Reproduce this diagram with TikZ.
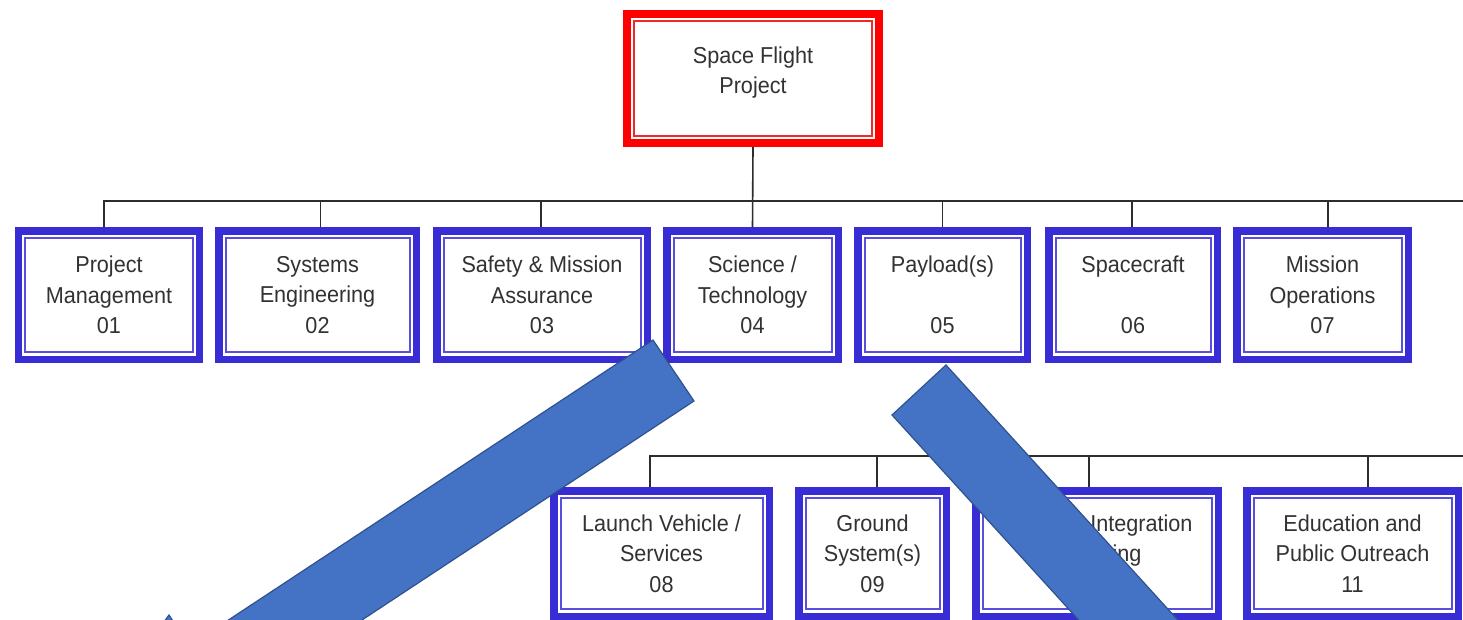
\documentclass[tikz,border=0pt]{standalone}
\usepackage{fontspec}
\setmainfont{Liberation Sans}
\newfontfamily\wbsfont{Liberation Sans}[FakeStretch=0.94]
\definecolor{wbsblue}{RGB}{56,44,212}
\definecolor{innerblue}{RGB}{88,78,224}
\definecolor{wbsred}{RGB}{255,0,0}
\definecolor{innerred}{RGB}{240,40,40}
\definecolor{txtgray}{RGB}{50,50,50}
\definecolor{barblue}{RGB}{68,114,196}
\definecolor{baredge}{RGB}{47,82,143}
\definecolor{connline}{RGB}{45,45,45}
\begin{document}
\begin{tikzpicture}[x=1pt,y=-1pt,
  wbstext/.style={align=center, font=\wbsfont\fontsize{23}{30.5}\selectfont, text=txtgray},
  wbs/.style={wbstext, draw=wbsblue, line width=7.5pt, outer sep=3.75pt, inner sep=0pt},
  topbox/.style={draw=wbsred, line width=8pt, outer sep=4pt, inner sep=0pt},
  innerb/.style={draw=innerblue, line width=2pt},
  innerr/.style={draw=innerred, line width=2pt},
  conn/.style={draw=connline, line width=1.6pt},
  bar/.style={fill=barblue, draw=baredge, line width=1.2pt, line join=miter}
]
\useasboundingbox (0,0) rectangle (1463,619);
\fill[white] (0,0) rectangle (1463,619);
\begin{scope}
\clip (0,0) rectangle (1463,619);

% top box
\node[topbox, minimum width=252pt, minimum height=129pt,
  label={[wbstext, name=toplbl, yshift=6pt]center:{Space Flight\\Project}}] (top) at (753,78.5) {};

% level 2
\node[wbs, minimum width=181pt, minimum height=128.5pt] (b01) at (109,295) {Project\\Management\\01};
\node[wbs, minimum width=197.5pt, minimum height=128.5pt] (b02) at (317.5,295) {Systems\\Engineering\\02};
\node[wbs, minimum width=210.5pt, minimum height=128.5pt] (b03) at (542,295) {Safety \& Mission\\Assurance\\03};
\node[wbs, minimum width=171.5pt, minimum height=128.5pt] (b04) at (752.5,295) {Science /\\Technology\\04};
\node[wbs, minimum width=169.5pt, minimum height=128.5pt] (b05) at (942.5,295) {Payload(s)\\\mbox{}\\05};
\node[wbs, minimum width=168.5pt, minimum height=128.5pt] (b06) at (1133,295) {Spacecraft\\\mbox{}\\06};
\node[wbs, minimum width=171.5pt, minimum height=128.5pt] (b07) at (1322.5,295) {Mission\\Operations\\07};

% level 2, second row
\node[wbs, minimum width=215.5pt, minimum height=125.5pt] (b08) at (661.5,553.5) {Launch Vehicle /\\Services\\08};
\node[wbs, minimum width=147.5pt, minimum height=125.5pt] (b09) at (872.5,553.5) {Ground\\System(s)\\09};
\node[wbs, minimum width=242.5pt, minimum height=125.5pt] (b10) at (1097,553.5) {Systems Integration\\\& Testing\\10};
\node[wbs, minimum width=211.5pt, minimum height=125.5pt] (b11) at (1352.5,553.5) {Education and\\Public Outreach\\11};

% inner thin lines
\draw[innerr] ([shift={(11,11)}]top.north west) rectangle ([shift={(-11,-11)}]top.south east);
\foreach \n in {b01,b02,b03,b04,b05,b06,b07,b08,b09,b10,b11}{
  \draw[innerb] ([shift={(10.5,11)}]\n.north west) rectangle ([shift={(-10.5,-11)}]\n.south east);
}

% connectors
\coordinate (busA) at (1463,201);
\coordinate (busB) at (1463,456);
\draw[conn] (top.south) -- (b04.north);
\draw[conn] ([xshift=-5pt]b01.north) |- (busA);
\draw[conn] ([xshift=3pt]b02.north) |- (busA);
\draw[conn] ([xshift=-1pt]b03.north) |- (busA);
\draw[conn] (b05.north) |- (busA);
\draw[conn] ([xshift=-1pt]b06.north) |- (busA);
\draw[conn] ([xshift=5.5pt]b07.north) |- (busA);
\draw[conn] ([xshift=-11.5pt]b08.north) |- (busB);
\draw[conn] ([xshift=4.5pt]b09.north) |- (busB);
\draw[conn] ([xshift=-8pt]b10.north) |- (busB);
\draw[conn] ([xshift=15.5pt]b11.north) |- (busB);

% big blue arrows
\path[bar] (653,340) -- (694,401) -- (229.6,707.3) -- (250,738) -- (43,786.5) -- (169,615) -- (189,646) -- cycle;
\path[bar] (946,365) -- (1296,750) -- (1197,750) -- (892,415) -- cycle;
\end{scope}
\end{tikzpicture}
\end{document}
